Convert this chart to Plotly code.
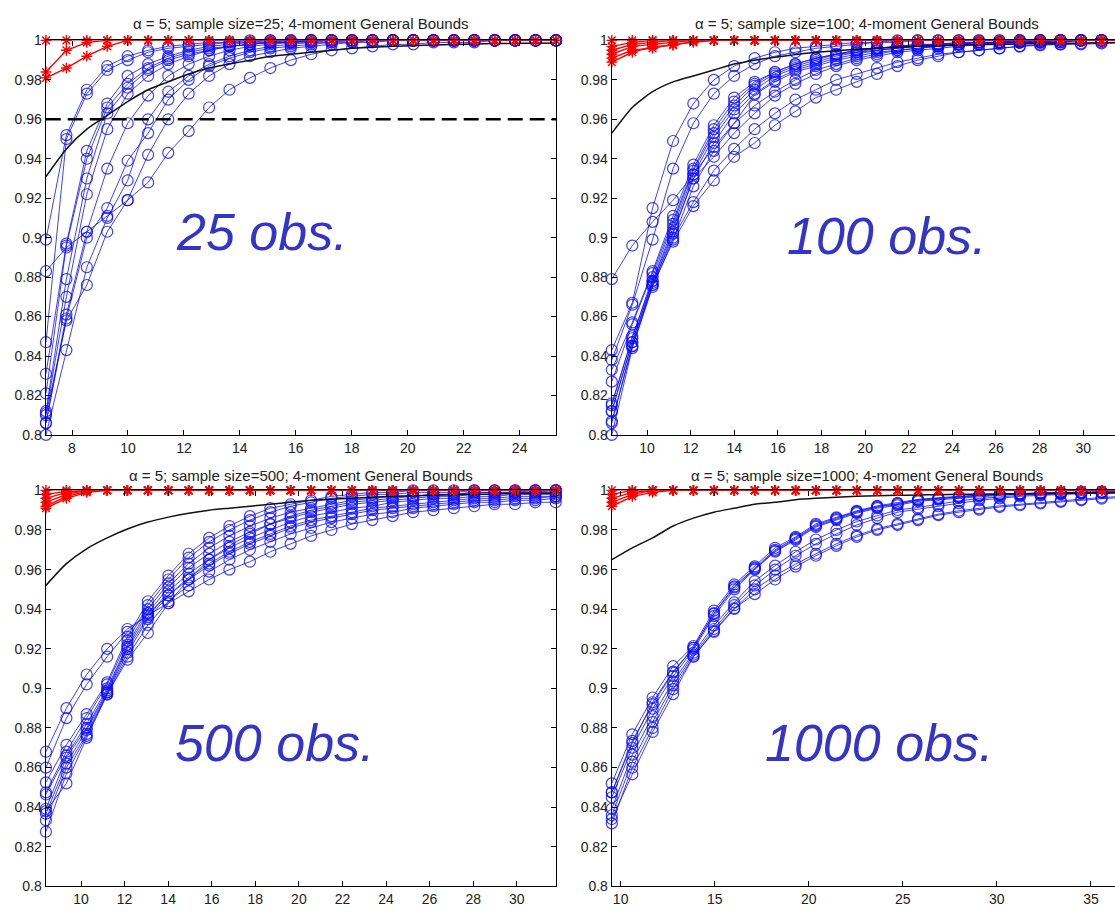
import plotly.graph_objects as go

W, H = 1115, 914

# ---------------- x grids (threshold values) ----------------
x_n25 = [7.07, 7.80, 8.53, 9.26, 9.99, 10.72, 11.44, 12.17, 12.90, 13.63, 14.36, 15.09, 15.82,
         16.55, 17.28, 18.01, 18.74, 19.47, 20.20, 20.92, 21.65, 22.38, 23.11, 23.84, 24.57, 25.30]
x_n100 = [8.38, 9.32, 10.25, 11.19, 12.12, 13.06, 13.99, 14.93, 15.86, 16.80, 17.74, 18.67, 19.61,
          20.54, 21.48, 22.41, 23.35, 24.29, 25.22, 26.16, 27.09, 28.03, 28.96, 29.90, 30.84, 31.77]
x_n500 = [8.39, 9.33, 10.26, 11.20, 12.13, 13.07, 14.01, 14.94, 15.88, 16.81, 17.75, 18.69, 19.62,
          20.56, 21.49, 22.43, 23.37, 24.30, 25.24, 26.17, 27.11, 28.05, 28.98, 29.92, 30.85, 31.79]
x_n1000 = [9.53, 10.62, 11.70, 12.79, 13.87, 14.96, 16.04, 17.13, 18.21, 19.30, 20.38, 21.47, 22.55,
           23.64, 24.72, 25.81, 26.89, 27.98, 29.06, 30.15, 31.23, 32.32, 33.40, 34.49, 35.57, 36.66]

# ---------------- sample size 25 ----------------
n25_b1 = [0.899, 0.952, 0.975, 0.987, 0.992, 0.995, 0.997, 0.998, 0.999, 0.999] + [1.0] * 16
n25_b2 = [0.847, 0.950, 0.973, 0.985, 0.990, 0.994, 0.996, 0.997, 0.998, 0.999, 0.999] + [1.0] * 15
n25_b3 = [0.831, 0.897, 0.944, 0.968, 0.982, 0.988, 0.992, 0.995, 0.997, 0.998, 0.999, 0.999] + [1.0] * 14
n25_b4 = [0.821, 0.896, 0.940, 0.966, 0.978, 0.986, 0.991, 0.994, 0.996, 0.997, 0.998, 0.999, 0.999] + [1.0] * 13
n25_b5 = [0.812, 0.879, 0.930, 0.963, 0.976, 0.985, 0.990, 0.993, 0.995, 0.997, 0.998, 0.999, 0.999] + [1.0] * 13
n25_b6 = [0.811, 0.870, 0.922, 0.955, 0.973, 0.982, 0.988, 0.992, 0.995, 0.997, 0.998, 0.999, 0.999] + [1.0] * 13
n25_b7 = [0.806, 0.861, 0.903, 0.935, 0.958, 0.972, 0.982, 0.988, 0.992, 0.995, 0.997, 0.998, 0.999, 0.999] + [1.0] * 12
n25_b8 = [0.806, 0.859, 0.900, 0.915, 0.939, 0.953, 0.970, 0.980, 0.987, 0.991, 0.994, 0.996, 0.997, 0.998,
          0.999, 0.999] + [1.0] * 10
n25_b9 = [0.800, 0.843, 0.885, 0.910, 0.929, 0.960, 0.974, 0.982, 0.988, 0.992, 0.995, 0.997, 0.998, 0.999,
          0.999] + [1.0] * 11
n25_b10 = [0.883, 0.895, 0.903, 0.911, 0.919, 0.928, 0.943, 0.954, 0.966, 0.975, 0.981, 0.986, 0.990, 0.993,
           0.995, 0.996, 0.997, 0.998, 0.998, 0.999, 0.999, 0.999, 1.0, 1.0, 1.0, 1.0]
n25_b11 = [0.810, 0.858, 0.876, 0.903, 0.919, 0.942, 0.960, 0.973, 0.982, 0.988, 0.992, 0.994, 0.996, 0.997,
           0.998, 0.999, 0.999] + [1.0] * 9
n25_r1 = [1.0] * 26
n25_r2 = [0.984, 0.995, 0.999] + [1.0] * 23
n25_r3 = [0.981, 0.986, 0.992, 0.997] + [1.0] * 22
n25_black = [0.931, 0.945, 0.955, 0.962, 0.969, 0.975, 0.979, 0.983, 0.986, 0.988, 0.990, 0.992, 0.993,
             0.994, 0.995, 0.996, 0.9965, 0.997, 0.9973, 0.9977, 0.998, 0.9982, 0.9984, 0.9985, 0.9986, 0.9987]
n25_level = 0.96

# ---------------- sample size 100 ----------------
n100_b1 = [0.879, 0.896, 0.908, 0.919, 0.932, 0.946, 0.958, 0.967, 0.974, 0.980, 0.985, 0.988, 0.991, 0.993,
           0.995, 0.996, 0.997, 0.998, 0.998, 0.999, 0.999, 0.999, 1.0, 1.0, 1.0, 1.0]
n100_b2 = [0.843, 0.867, 0.915, 0.949, 0.968, 0.980, 0.987, 0.991, 0.994, 0.996, 0.997, 0.998, 0.999, 0.999] + [1.0] * 12
n100_b3 = [0.838, 0.866, 0.899, 0.935, 0.958, 0.973, 0.982, 0.988, 0.992, 0.994, 0.996, 0.997, 0.998, 0.999,
           0.999] + [1.0] * 11
n100_b4 = [0.833, 0.857, 0.883, 0.911, 0.937, 0.957, 0.971, 0.979, 0.984, 0.988, 0.991, 0.993, 0.995, 0.996,
           0.997, 0.998, 0.998, 0.999, 0.999, 0.999] + [1.0] * 6
n100_b5 = [0.827, 0.856, 0.882, 0.909, 0.935, 0.955, 0.969, 0.978, 0.984, 0.988, 0.991, 0.993, 0.995, 0.996,
           0.997, 0.998, 0.998, 0.999, 0.999, 0.999] + [1.0] * 6
n100_b6 = [0.816, 0.849, 0.880, 0.907, 0.934, 0.953, 0.967, 0.977, 0.983, 0.987, 0.990, 0.993, 0.994, 0.996,
           0.997, 0.997, 0.998, 0.998, 0.999, 0.999, 0.999] + [1.0] * 5
n100_b7 = [0.812, 0.847, 0.878, 0.905, 0.932, 0.951, 0.965, 0.975, 0.982, 0.986, 0.989, 0.992, 0.994, 0.995,
           0.996, 0.997, 0.998, 0.998, 0.999, 0.999, 0.999] + [1.0] * 5
n100_b8 = [0.807, 0.845, 0.876, 0.902, 0.930, 0.948, 0.963, 0.973, 0.980, 0.985, 0.988, 0.991, 0.993, 0.995,
           0.996, 0.997, 0.997, 0.998, 0.998, 0.999, 0.999, 0.999] + [1.0] * 4
n100_b9 = [0.800, 0.844, 0.875, 0.899, 0.926, 0.944, 0.958, 0.9725, 0.979, 0.984, 0.987, 0.990, 0.992, 0.994,
           0.995, 0.996, 0.997, 0.998, 0.998, 0.999, 0.999, 0.999, 0.999, 1.0, 1.0, 1.0]
n100_b10 = [0.815, 0.850, 0.878, 0.903, 0.930, 0.941, 0.953, 0.963, 0.972, 0.978, 0.983, 0.987, 0.990, 0.992,
            0.994, 0.995, 0.996, 0.997, 0.998, 0.998, 0.999, 0.999, 0.999, 1.0, 1.0, 1.0]
n100_b11 = [0.812, 0.847, 0.877, 0.900, 0.918, 0.934, 0.945, 0.955, 0.963, 0.970, 0.975, 0.980, 0.983, 0.986,
            0.989, 0.991, 0.993, 0.994, 0.995, 0.996, 0.997, 0.998, 0.998, 0.9985, 0.999, 0.999]
n100_b12 = [0.806, 0.845, 0.876, 0.898, 0.916, 0.929, 0.941, 0.948, 0.957, 0.964, 0.971, 0.975, 0.979, 0.983,
            0.987, 0.990, 0.992, 0.994, 0.995, 0.996, 0.997, 0.9975, 0.998, 0.998, 0.9985, 0.999]
n100_r1 = [1.0] * 26
n100_r2 = [0.997, 0.999] + [1.0] * 24
n100_r3 = [0.995, 0.998, 0.999] + [1.0] * 23
n100_r4 = [0.993, 0.997, 0.998, 0.999] + [1.0] * 22
n100_r5 = [0.991, 0.995, 0.996, 0.998, 0.999] + [1.0] * 21
n100_r6 = [0.989, 0.994, 0.997, 0.9975, 0.9995] + [1.0] * 21
n100_black = [0.953, 0.966, 0.974, 0.979, 0.982, 0.985, 0.988, 0.990, 0.9915, 0.9928, 0.994, 0.9948, 0.9955,
              0.996, 0.9966, 0.997, 0.9973, 0.9976, 0.9978, 0.998, 0.9982, 0.9984, 0.9985, 0.9986, 0.9987, 0.9988]

# ---------------- sample size 500 ----------------
n500_b1 = [0.868, 0.890, 0.907, 0.920, 0.930, 0.937, 0.943, 0.949, 0.955, 0.960, 0.964, 0.969, 0.973, 0.977,
           0.980, 0.983, 0.985, 0.987, 0.989, 0.990, 0.991, 0.992, 0.993, 0.993, 0.994, 0.994]
n500_b2 = [0.860, 0.885, 0.902, 0.916, 0.9285, 0.938, 0.947, 0.955, 0.962, 0.968, 0.973, 0.977, 0.981, 0.984,
           0.986, 0.988, 0.990, 0.991, 0.992, 0.993, 0.994, 0.995, 0.995, 0.996, 0.996, 0.997]
n500_b3 = [0.8525, 0.8715, 0.887, 0.903, 0.926, 0.944, 0.957, 0.968, 0.976, 0.982, 0.987, 0.991, 0.993, 0.995,
           0.997, 0.998, 0.999, 0.999] + [1.0] * 8
n500_b4 = [0.8475, 0.868, 0.885, 0.902, 0.924, 0.942, 0.955, 0.966, 0.974, 0.980, 0.985, 0.989, 0.992, 0.994,
           0.996, 0.997, 0.998, 0.998, 0.999, 0.999, 0.999] + [1.0] * 5
n500_b5 = [0.8464, 0.866, 0.882, 0.900, 0.922, 0.940, 0.953, 0.963, 0.971, 0.977, 0.982, 0.986, 0.989, 0.991,
           0.993, 0.995, 0.996, 0.997, 0.997, 0.998, 0.998, 0.999, 0.999, 0.999, 0.999, 1.0]
n500_b6 = [0.8392, 0.865, 0.880, 0.899, 0.921, 0.938, 0.951, 0.961, 0.968, 0.974, 0.979, 0.983, 0.986, 0.989,
           0.991, 0.993, 0.994, 0.995, 0.996, 0.997, 0.997, 0.998, 0.998, 0.999, 0.999, 0.999]
n500_b7 = [0.8367, 0.862, 0.879, 0.898, 0.920, 0.936, 0.949, 0.958, 0.965, 0.971, 0.976, 0.980, 0.984, 0.987,
           0.989, 0.991, 0.992, 0.994, 0.995, 0.996, 0.996, 0.997, 0.997, 0.998, 0.998, 0.998]
n500_b8 = [0.8334, 0.860, 0.877, 0.898, 0.918, 0.935, 0.947, 0.956, 0.963, 0.969, 0.974, 0.978, 0.982, 0.985,
           0.987, 0.989, 0.991, 0.992, 0.993, 0.994, 0.995, 0.996, 0.996, 0.997, 0.997, 0.997]
n500_b9 = [0.8276, 0.857, 0.876, 0.897, 0.916, 0.932, 0.944, 0.952, 0.959, 0.965, 0.970, 0.974, 0.978, 0.981,
           0.984, 0.986, 0.988, 0.989, 0.991, 0.992, 0.993, 0.994, 0.994, 0.995, 0.995, 0.996]
n500_b10 = [0.838, 0.852, 0.875, 0.897, 0.9145, 0.928, 0.943, 0.955, 0.965, 0.972, 0.978, 0.983, 0.987, 0.990,
            0.992, 0.994, 0.995, 0.996, 0.997, 0.998, 0.998, 0.999, 0.999, 0.999, 1.0, 1.0]
n500_r1 = [1.0] * 26
n500_r2 = [0.998, 0.9995] + [1.0] * 24
n500_r3 = [0.996, 0.999] + [1.0] * 24
n500_r4 = [0.994, 0.998] + [1.0] * 24
n500_r5 = [0.992, 0.997, 0.9995] + [1.0] * 23
n500_r6 = [0.991, 0.996, 0.999] + [1.0] * 23
n500_black = [0.952, 0.963, 0.9705, 0.976, 0.9805, 0.984, 0.9865, 0.9885, 0.990, 0.991, 0.992, 0.993, 0.994,
              0.995, 0.9955, 0.996, 0.9965, 0.997, 0.9973, 0.9976, 0.9978, 0.998, 0.9982, 0.9984, 0.9985, 0.9986]

# ---------------- sample size 1000 ----------------
n1000_b1 = [0.852, 0.8768, 0.8954, 0.9112, 0.9214, 0.9393, 0.9525, 0.9616, 0.971, 0.9765, 0.9831, 0.9864, 0.9897,
            0.9922, 0.9937, 0.9955, 0.9963, 0.997, 0.9977, 0.998, 0.9985, 0.9988, 0.999, 0.9992, 0.9993, 0.9994]
n1000_b2 = [0.8475, 0.8723, 0.893, 0.9085, 0.9205, 0.9376, 0.951, 0.9605, 0.9695, 0.9755, 0.982, 0.9855, 0.989,
            0.9915, 0.993, 0.995, 0.9958, 0.9966, 0.9973, 0.9978, 0.9982, 0.9985, 0.9988, 0.999, 0.9991, 0.9992]
n1000_b3 = [0.845, 0.870, 0.8897, 0.9062, 0.9195, 0.9365, 0.950, 0.960, 0.969, 0.975, 0.9815, 0.985, 0.9885,
            0.991, 0.9925, 0.9945, 0.9953, 0.9962, 0.997, 0.9975, 0.998, 0.9983, 0.9986, 0.9988, 0.999, 0.9991]
n1000_b4 = [0.8475, 0.8735, 0.892, 0.908, 0.9205, 0.938, 0.9515, 0.961, 0.970, 0.976, 0.9825, 0.986, 0.9893,
            0.9918, 0.9933, 0.9952, 0.996, 0.9968, 0.9975, 0.998, 0.9984, 0.9987, 0.9989, 0.9991, 0.9992, 0.9993]
n1000_b5 = [0.8392, 0.8665, 0.886, 0.9035, 0.918, 0.9318, 0.9434, 0.9542, 0.962, 0.969, 0.9752, 0.980, 0.9843,
            0.9873, 0.9901, 0.9914, 0.993, 0.9947, 0.9959, 0.9968, 0.9975, 0.998, 0.9984, 0.9987, 0.9989, 0.999]
n1000_b6 = [0.8359, 0.863, 0.883, 0.9015, 0.917, 0.930, 0.942, 0.952, 0.960, 0.967, 0.973, 0.978, 0.9825,
            0.986, 0.989, 0.9905, 0.992, 0.9935, 0.995, 0.996, 0.997, 0.9975, 0.998, 0.9984, 0.9987, 0.9989]
n1000_b7 = [0.8318, 0.8599, 0.880, 0.8996, 0.9161, 0.9285, 0.9401, 0.950, 0.957, 0.9628, 0.968, 0.973, 0.9773,
            0.9806, 0.9831, 0.9856, 0.988, 0.9897, 0.9909, 0.9922, 0.993, 0.9939, 0.9947, 0.9955, 0.9964, 0.997]
n1000_b8 = [0.834, 0.8566, 0.878, 0.8971, 0.916, 0.929, 0.9405, 0.9476, 0.955, 0.9615, 0.967, 0.972, 0.9765,
            0.980, 0.9825, 0.985, 0.9875, 0.989, 0.9903, 0.9916, 0.9925, 0.9934, 0.9942, 0.995, 0.9958, 0.9964]
n1000_r1 = [1.0] * 26
n1000_r2 = [0.998] + [1.0] * 25
n1000_r3 = [0.996, 0.999] + [1.0] * 24
n1000_r4 = [0.994, 0.998] + [1.0] * 24
n1000_r5 = [0.992, 0.997, 0.999] + [1.0] * 23
n1000_black = [0.965, 0.971, 0.976, 0.982, 0.986, 0.989, 0.991, 0.993, 0.994, 0.9953, 0.996, 0.9965, 0.997,
               0.9973, 0.9975, 0.9977, 0.9978, 0.998, 0.9981, 0.9982, 0.9983, 0.9984, 0.9985, 0.9986, 0.9986, 0.9987]

y_tickvals = [0.8, 0.82, 0.84, 0.86, 0.88, 0.9, 0.92, 0.94, 0.96, 0.98, 1.0]
y_ticktext = ["0.8", "0.82", "0.84", "0.86", "0.88", "0.9", "0.92", "0.94", "0.96", "0.98", "1"]

panels = [
    dict(n="25", x=x_n25, label="25 obs.",
         blue=[n25_b1, n25_b2, n25_b3, n25_b4, n25_b5, n25_b6, n25_b7, n25_b8, n25_b9, n25_b10, n25_b11],
         red=[n25_r1, n25_r2, n25_r3], black=n25_black, level=n25_level,
         xr=[7.06, 25.30], xticks=[8, 10, 12, 14, 16, 18, 20, 22, 24]),
    dict(n="100", x=x_n100, label="100 obs.",
         blue=[n100_b1, n100_b2, n100_b3, n100_b4, n100_b5, n100_b6, n100_b7, n100_b8, n100_b9, n100_b10,
               n100_b11, n100_b12],
         red=[n100_r1, n100_r2, n100_r3, n100_r4, n100_r5, n100_r6], black=n100_black, level=None,
         xr=[8.38, 31.46], xticks=[10, 12, 14, 16, 18, 20, 22, 24, 26, 28, 30]),
    dict(n="500", x=x_n500, label="500 obs.",
         blue=[n500_b1, n500_b2, n500_b3, n500_b4, n500_b5, n500_b6, n500_b7, n500_b8, n500_b9, n500_b10],
         red=[n500_r1, n500_r2, n500_r3, n500_r4, n500_r5, n500_r6], black=n500_black, level=None,
         xr=[8.38, 31.80], xticks=[10, 12, 14, 16, 18, 20, 22, 24, 26, 28, 30]),
    dict(n="1000", x=x_n1000, label="1000 obs.",
         blue=[n1000_b1, n1000_b2, n1000_b3, n1000_b4, n1000_b5, n1000_b6, n1000_b7, n1000_b8],
         red=[n1000_r1, n1000_r2, n1000_r3, n1000_r4, n1000_r5], black=n1000_black, level=None,
         xr=[9.53, 36.28], xticks=[10, 15, 20, 25, 30, 35]),
]

# pixel geometry of the four boxes
left_x = (45.7 / W, 556 / W)
right_x = (611.8 / W, 1.0)
top_y = (1 - 434.5 / H, 1 - 33 / H)
bot_y = (1 - 894 / H, 1 - 491 / H)
doms = [(left_x, top_y), (right_x, top_y), (left_x, bot_y), (right_x, bot_y)]

BLUE = "rgba(10,10,255,0.78)"
RED = "#ff0000"
FONT = "Liberation Sans, Arial, Helvetica, sans-serif"

fig = go.Figure()
layout = dict(width=W, height=H, margin=dict(l=0, r=0, t=0, b=0),
              paper_bgcolor="white", plot_bgcolor="white", showlegend=False,
              font=dict(family=FONT, size=14, color="#222"))
annotations = []

for i, p in enumerate(panels):
    sfx = "" if i == 0 else str(i + 1)
    xa, ya = "x" + sfx, "y" + sfx
    for ys in p["blue"]:
        fig.add_trace(go.Scatter(x=p["x"], y=ys, xaxis=xa, yaxis=ya, mode="lines+markers",
                                 line=dict(color=BLUE, width=1),
                                 marker=dict(symbol="circle-open", size=11, color=BLUE, line=dict(width=1.2)),
                                 cliponaxis=False, hoverinfo="skip"))
    fig.add_trace(go.Scatter(x=p["x"], y=p["black"], xaxis=xa, yaxis=ya, mode="lines",
                             line=dict(color="#111", width=1.5, shape="spline", smoothing=0.6),
                             hoverinfo="skip"))
    for ys in p["red"]:
        fig.add_trace(go.Scatter(x=p["x"], y=ys, xaxis=xa, yaxis=ya, mode="lines+markers",
                                 line=dict(color=RED, width=1.4),
                                 marker=dict(symbol="asterisk-open", size=9, color=RED, line=dict(width=1.4, color=RED)),
                                 cliponaxis=False, hoverinfo="skip"))
    if p["level"] is not None:
        fig.add_trace(go.Scatter(x=[p["xr"][0], p["xr"][1]], y=[p["level"], p["level"]], xaxis=xa, yaxis=ya,
                                 mode="lines", line=dict(color="black", width=2.4, dash="15px,7px"),
                                 hoverinfo="skip"))
    (dx, dy) = doms[i]
    right_side = i in (1, 3)
    layout["xaxis" + sfx] = dict(domain=list(dx), range=p["xr"], anchor=ya, showgrid=False, zeroline=False,
                                 showline=True, linecolor="black", linewidth=1.2, mirror="ticks",
                                 ticks="inside", ticklen=5, tickwidth=1, tickcolor="black",
                                 tickvals=p["xticks"], ticktext=[str(t) for t in p["xticks"]],
                                 tickfont=dict(size=14, color="#222", family=FONT))
    layout["yaxis" + sfx] = dict(domain=list(dy), range=[0.8, 1.0], anchor=xa, showgrid=False, zeroline=False,
                                 showline=True, linecolor="black", linewidth=1.2,
                                 mirror=False if right_side else "ticks",
                                 ticks="inside", ticklen=5, tickwidth=1, tickcolor="black",
                                 tickvals=y_tickvals, ticktext=y_ticktext,
                                 tickfont=dict(size=14, color="#222", family=FONT))
    cx = ((45.7 + 556) / 2 if not right_side else (611.8 + 1122) / 2) / W
    ty = (1 - 16 / H) if i < 2 else (1 - 476 / H)
    annotations.append(dict(x=cx, y=ty, xref="paper", yref="paper", showarrow=False,
                            text="\u03b1 = 5; sample size=%s; 4-moment General Bounds" % p["n"],
                            font=dict(size=15, color="#222", family=FONT), xanchor="center", yanchor="middle"))

big_pos = [(262, 228), (887, 232), (275, 748), (879, 748)]
for p, (px, py) in zip(panels, big_pos):
    annotations.append(dict(x=px / W, y=1 - py / H, xref="paper", yref="paper", showarrow=False,
                            text="<i>%s</i>" % p["label"], xanchor="center", yanchor="middle",
                            font=dict(size=52, color="#3434c8", family=FONT)))

layout["annotations"] = annotations
fig.update_layout(**layout)
fig.write_html("out.html")
